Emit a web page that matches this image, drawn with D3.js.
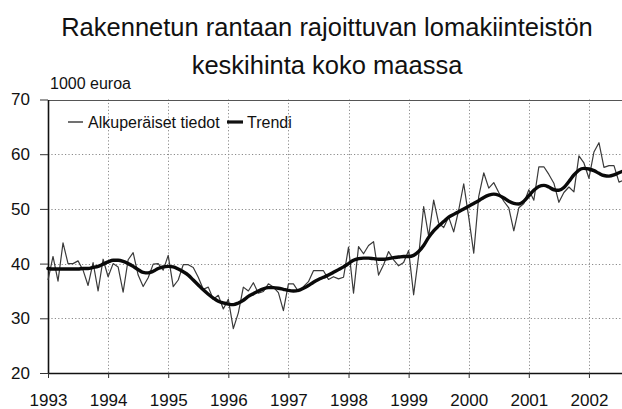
<!DOCTYPE html>
<html><head><meta charset="utf-8">
<script src="https://cdn.jsdelivr.net/npm/d3@7/dist/d3.min.js"></script>
<style>
body{margin:0;background:#fff;}
svg{display:block;font-family:"Liberation Sans",Arial,Helvetica,sans-serif;}
</style>
</head><body>
<svg id="chart" width="622" height="409"></svg>
<script>
const titleLines = ["Rakennetun rantaan rajoittuvan lomakiinteistön", "keskihinta koko maassa"];
const unitLabel = "1000 euroa";
const seriesNames = ["Alkuperäiset tiedot", "Trendi"];
const yearLabels = [1993, 1994, 1995, 1996, 1997, 1998, 1999, 2000, 2001, 2002];
const yTicks = [20, 30, 40, 50, 60, 70];
const startYear = 1993; // first value = January 1993, monthly
const original = [
  37.0, 41.3, 36.8, 43.8, 40.0, 40.0, 40.5, 38.8, 36.0, 40.2, 35.0, 40.8,
  37.6, 40.0, 39.4, 34.8, 40.7, 42.0, 37.9, 35.8, 37.4, 39.9, 40.0, 38.8,
  41.5, 35.8, 37.0, 39.8, 39.8, 39.3, 37.5, 35.3, 35.7, 33.5, 34.2, 31.7,
  33.5, 28.1, 31.0, 35.7, 35.0, 36.5, 34.6, 34.9, 36.3, 35.7, 34.7, 31.4,
  36.3, 36.3, 34.9, 35.8, 36.7, 38.7, 38.7, 38.7, 37.1, 37.6, 37.2, 37.5,
  43.0, 34.6, 43.1, 41.8, 43.3, 44.0, 37.9, 39.8, 42.2, 40.7, 39.6, 40.2,
  42.4, 34.3, 41.4, 50.4, 45.0, 51.6, 47.4, 46.6, 48.5, 45.8, 49.8, 54.6,
  48.5, 41.9, 52.3, 56.6, 53.8, 54.8, 53.0, 51.4, 50.2, 46.0, 50.2, 51.0,
  53.5, 51.6, 57.7, 57.7, 56.3, 54.7, 51.2, 53.0, 54.0, 53.1, 59.7, 58.4,
  55.6, 60.4, 62.1, 57.6, 57.9, 57.9, 54.9, 55.3
];
const trend = [
  39.1, 39.0, 39.0, 39.0, 39.0, 39.0, 39.0, 39.1, 39.1, 39.3, 39.5, 39.9,
  40.3, 40.6, 40.6, 40.4, 40.0, 39.5, 38.9, 38.4, 38.3, 38.6, 39.1, 39.4,
  39.5, 39.4, 39.0, 38.5, 37.9, 37.0, 36.1, 35.2, 34.4, 33.7, 33.1, 32.8,
  32.6, 32.5, 32.8, 33.3, 34.0, 34.5, 35.0, 35.4, 35.6, 35.6, 35.5, 35.3,
  35.1, 35.0, 35.1, 35.5, 36.0, 36.6, 37.1, 37.5, 37.9, 38.4, 38.9, 39.4,
  40.0, 40.6, 40.9, 41.0, 41.0, 40.9, 40.8, 40.8, 40.9, 41.1, 41.2, 41.3,
  41.3, 41.5, 42.2, 43.3, 44.8, 46.0, 46.9, 47.7, 48.5, 49.0, 49.5, 50.0,
  50.5, 51.0, 51.5, 52.1, 52.5, 52.7, 52.5, 52.0, 51.4, 51.0, 50.9, 51.4,
  52.4, 53.4, 54.1, 54.3, 54.0, 53.5, 53.4, 53.9, 55.0, 56.2, 57.1, 57.4,
  57.3, 57.0, 56.5, 56.1, 56.0, 56.2, 56.6, 57.0
];

const svg = d3.select("#chart");
const plotL = 48, plotR = 625, plotT = 99.5, plotB = 373;

const x = d3.scaleLinear().domain([startYear, 2002.6]).range([plotL, plotR]);
const y = d3.scaleLinear().domain([20, 70]).range([plotB, plotT]);
const t = i => startYear + i / 12;

// Title
svg.append("g").selectAll("text").data(titleLines).join("text")
  .attr("x", 327).attr("y", (d, i) => 36 + i * 38)
  .attr("text-anchor", "middle")
  .attr("font-size", 25.5).attr("fill", "#111")
  .text(d => d);

// Unit label
svg.append("text").attr("x", 50).attr("y", 89)
  .attr("font-size", 16).attr("fill", "#111").text(unitLabel);

// Grid
const grid = svg.append("g").attr("stroke", "#8a8a8a").attr("stroke-width", 1)
  .attr("stroke-dasharray", "1.2,2.2");
grid.selectAll("line.h").data(yTicks.filter(v => v > 20 && v < 70)).join("line")
  .attr("class", "h")
  .attr("x1", plotL).attr("x2", plotR)
  .attr("y1", d => Math.round(y(d)) + 0.5).attr("y2", d => Math.round(y(d)) + 0.5);
grid.selectAll("line.v").data(yearLabels.slice(1)).join("line")
  .attr("class", "v")
  .attr("x1", d => Math.round(x(d)) + 0.5).attr("x2", d => Math.round(x(d)) + 0.5)
  .attr("y1", plotT).attr("y2", plotB);

// Top frame
svg.append("line").attr("x1", plotL).attr("x2", plotR)
  .attr("y1", Math.round(y(70)) + 0.5).attr("y2", Math.round(y(70)) + 0.5)
  .attr("stroke", "#555").attr("stroke-width", 1);

// Axes
const yAxis = svg.append("g").attr("transform", `translate(${plotL},0)`)
  .call(d3.axisLeft(y).tickValues(yTicks).tickSize(8).tickPadding(10).tickSizeOuter(0));
const xAxis = svg.append("g").attr("transform", `translate(0,${plotB})`)
  .call(d3.axisBottom(x).tickValues(yearLabels).tickFormat(d3.format("d"))
    .tickSize(5).tickPadding(16).tickSizeOuter(0));
[yAxis, xAxis].forEach(a => {
  a.selectAll("path.domain").attr("stroke", "#111").attr("stroke-width", 1.6);
  a.selectAll(".tick line").attr("stroke", "#333").attr("stroke-width", 1);
  a.selectAll(".tick text").attr("font-size", 17).attr("fill", "#111")
    .attr("font-family", "'Liberation Sans',Arial,sans-serif");
});

// Lines
const lineGen = d3.line().x((d, i) => x(t(i))).y(d => y(d));
svg.append("path").datum(original)
  .attr("d", lineGen)
  .attr("fill", "none").attr("stroke", "#3a3a3a").attr("stroke-width", 1.2)
  .attr("stroke-linejoin", "round");
svg.append("path").datum(trend)
  .attr("d", lineGen.curve(d3.curveMonotoneX))
  .attr("fill", "none").attr("stroke", "#0a0a0a").attr("stroke-width", 3.4)
  .attr("stroke-linejoin", "round").attr("stroke-linecap", "round");

// Legend
const legend = svg.append("g").attr("font-size", 16).attr("fill", "#111");
const legItems = [
  {name: seriesNames[0], x1: 68, x2: 83, w: 1.2, tx: 88},
  {name: seriesNames[1], x1: 227, x2: 243, w: 3.2, tx: 247}
];
legItems.forEach(d => {
  legend.append("line").attr("x1", d.x1).attr("x2", d.x2).attr("y1", 122).attr("y2", 122)
    .attr("stroke", "#111").attr("stroke-width", d.w);
  legend.append("text").attr("x", d.tx).attr("y", 128).text(d.name);
});
</script>
</body></html>
